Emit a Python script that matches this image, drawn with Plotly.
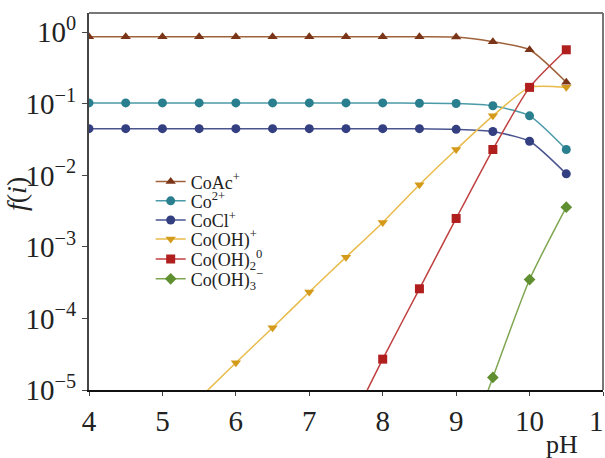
import plotly.graph_objects as go

pH = [4.0, 4.5, 5.0, 5.5, 6.0, 6.5, 7.0, 7.5, 8.0, 8.5, 9.0, 9.5, 10.0, 10.5]

coac = [0.87, 0.87, 0.87, 0.87, 0.87, 0.87, 0.87, 0.87, 0.87, 0.87, 0.86, 0.74, 0.57, 0.20]
co2 = [0.103, 0.103, 0.103, 0.103, 0.103, 0.103, 0.103, 0.103, 0.103, 0.102, 0.101, 0.094, 0.068, 0.023]
cocl = [0.045, 0.045, 0.045, 0.045, 0.045, 0.045, 0.045, 0.045, 0.045, 0.045, 0.044, 0.041, 0.030, 0.0105]

pH_oh1 = [5.5, 6.0, 6.5, 7.0, 7.5, 8.0, 8.5, 9.0, 9.5, 10.0, 10.5]
oh1 = [7.6e-6, 2.4e-5, 7.4e-5, 2.35e-4, 7.2e-4, 2.2e-3, 7.4e-3, 0.023, 0.068, 0.17, 0.17]

pH_oh2 = [7.5, 8.0, 8.5, 9.0, 9.5, 10.0, 10.5]
oh2 = [2.5e-6, 2.7e-5, 2.6e-4, 2.5e-3, 0.023, 0.17, 0.57]

pH_oh3 = [9.0, 9.5, 10.0, 10.5]
oh3 = [6e-7, 1.5e-5, 3.5e-4, 3.6e-3]

names = ["CoAc<sup>+</sup>", "Co<sup>2+</sup>", "CoCl<sup>+</sup>", "Co(OH)<sup>+</sup>",
         "Co(OH)<sub>2</sub><sup>0</sup>", "Co(OH)<sub>3</sub><sup>−</sup>"]

x_ticks = [4, 5, 6, 7, 8, 9, 10, 11]
y_tickvals = [1, 0.1, 0.01, 1e-3, 1e-4, 1e-5]
y_ticktext = ["10<sup>0</sup>", "10<sup>−1</sup>", "10<sup>−2</sup>", "10<sup>−3</sup>", "10<sup>−4</sup>", "10<sup>−5</sup>"]

series = [
    (pH, coac, names[0], "#a0623a", "#7a3518", "triangle-up"),
    (pH, co2, names[1], "#4a9aa8", "#2a7f8f", "circle"),
    (pH, cocl, names[2], "#4a5590", "#333f80", "circle"),
    (pH_oh1, oh1, names[3], "#e8bb4a", "#d49a1a", "triangle-down"),
    (pH_oh2, oh2, names[4], "#c04040", "#b01e1e", "square"),
    (pH_oh3, oh3, names[5], "#7fa650", "#5f8f30", "diamond"),
]

font_fam = "Liberation Serif"

# legend row positions (paper y)
legend_rows = [0.552, 0.501, 0.450, 0.400, 0.347, 0.294]

fig = go.Figure()
legend_layout = {}
for i, (xs, ys, nm, lc, mc, sym) in enumerate(series):
    key = "legend" if i == 0 else f"legend{i + 1}"
    fig.add_trace(go.Scatter(
        x=xs, y=ys, name=nm, mode="lines+markers",
        line=dict(color=lc, width=1.5, shape="spline", smoothing=0.6),
        marker=dict(symbol=sym, size=9, color=mc),
        legend=key,
    ))
    legend_layout[key] = dict(x=0.12, y=legend_rows[i], xanchor="left", yanchor="middle",
                              bgcolor="rgba(0,0,0,0)", font=dict(size=18, family=font_fam),
                              itemwidth=30)

fig.update_layout(
    width=605, height=458,
    margin=dict(l=89, r=2, t=13, b=68),
    paper_bgcolor="white", plot_bgcolor="white",
    font=dict(family=font_fam, color="#222", size=18),
    showlegend=True,
    xaxis=dict(range=[4, 11], tickvals=x_ticks, ticks="outside", ticklen=4,
               tickfont=dict(size=29, family=font_fam), showgrid=False, zeroline=False,
               showline=True, linecolor="#111", linewidth=2, mirror=False,
               ticklabeloverflow="allow", automargin=False),
    yaxis=dict(type="log", range=[-5, 0.27], tickvals=y_tickvals, ticktext=y_ticktext,
               ticks="outside", ticklen=5, tickfont=dict(size=29, family=font_fam),
               showgrid=False, zeroline=False, showline=True, linecolor="#444",
               linewidth=2, mirror=False, automargin=False),
    shapes=[
        dict(type="line", xref="paper", yref="paper", x0=0, x1=1, y0=1, y1=1,
             line=dict(color="#777", width=2)),
        dict(type="line", xref="paper", yref="paper", x0=1, x1=1, y0=0, y1=1,
             line=dict(color="#777", width=2)),
    ],
    annotations=[
        dict(text="pH", xref="paper", yref="paper", x=0.92, y=-0.1, xanchor="center",
             yanchor="top", showarrow=False, font=dict(size=26, family=font_fam)),
        dict(text="<i>f</i>(<i>i</i>)", xref="paper", yref="paper", x=-0.14, y=0.52,
             textangle=-90, xanchor="center", yanchor="middle", showarrow=False,
             font=dict(size=28, family=font_fam)),
    ],
    **legend_layout,
)

fig.write_html("out.html")
